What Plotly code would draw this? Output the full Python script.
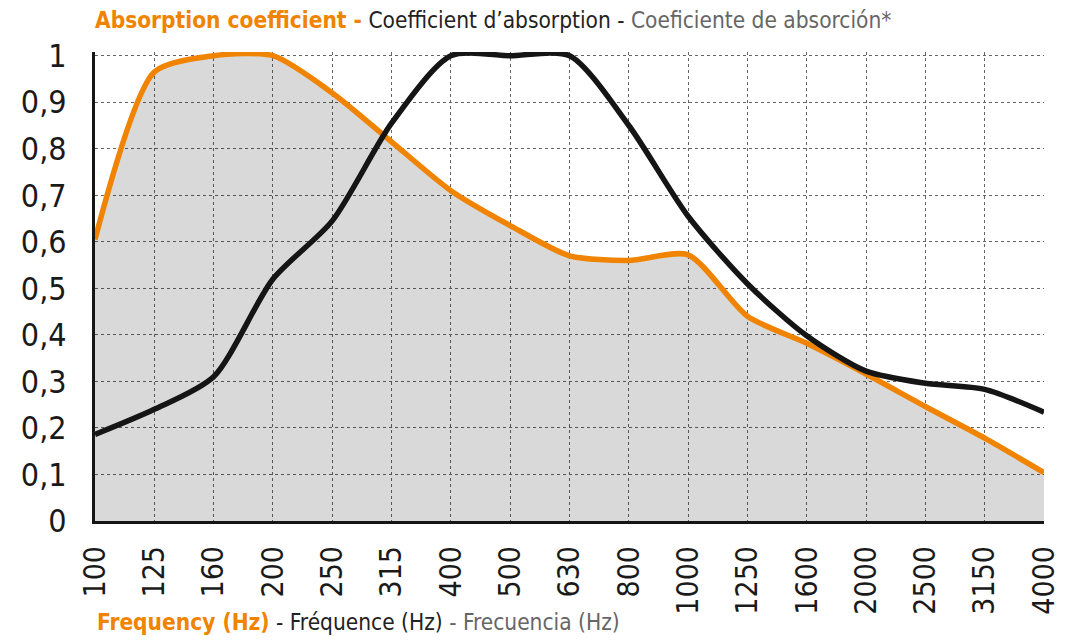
import plotly.graph_objects as go

frequencies = ["100", "125", "160", "200", "250", "315", "400", "500", "630",
               "800", "1000", "1250", "1600", "2000", "2500", "3150", "4000"]
orange_values = [0.605, 0.965, 1.0, 1.0, 0.92, 0.815, 0.71, 0.635, 0.57,
                 0.56, 0.572, 0.44, 0.382, 0.316, 0.246, 0.178, 0.104]
black_values = [0.186, 0.24, 0.31, 0.52, 0.645, 0.855, 1.0, 1.0, 1.0,
                0.85, 0.655, 0.51, 0.398, 0.322, 0.296, 0.283, 0.234]
y_ticks = [0, 0.1, 0.2, 0.3, 0.4, 0.5, 0.6, 0.7, 0.8, 0.9, 1.0]

ORANGE = "#f08300"
BLACK = "#151515"
FONT = "Liberation Sans Narrow, DejaVu Sans Condensed, Arial Narrow, sans-serif"

fig = go.Figure()
fig.add_trace(go.Scatter(
    x=frequencies, y=orange_values, mode="lines",
    line=dict(color=ORANGE, width=5.5, shape="spline", smoothing=0.7),
    fill="tozeroy", fillcolor="rgba(0,0,0,0.15)",
    hoverinfo="skip", showlegend=False,
))
fig.add_trace(go.Scatter(
    x=frequencies, y=black_values, mode="lines",
    line=dict(color=BLACK, width=5.5, shape="spline", smoothing=0.75),
    hoverinfo="skip", showlegend=False,
))

fig.update_layout(
    width=1080, height=642,
    margin=dict(l=87, r=44, t=44, b=129),
    paper_bgcolor="white", plot_bgcolor="white",
    separators=", ",
    font=dict(family=FONT, color="#1a1a1a"),
    title=dict(
        text=("<b><span style='color:%s'>Absorption coefficient -</span></b>"
              " <span style='color:#222222'>Coefficient d’absorption -</span>"
              " <span style='color:#666666'>Coeficiente de absorción*</span>") % ORANGE,
        x=0, xref="paper", xanchor="left",
        y=1 - 12 / 642, yref="container", yanchor="middle",
        font=dict(family=FONT, size=22.5),
    ),
    xaxis=dict(
        type="category", range=[0, 16],
        showgrid=True, gridcolor="#666666", griddash="dot", gridwidth=1,
        showline=True, linecolor=BLACK, linewidth=3,
        tickangle=-90, tickfont=dict(family=FONT, size=30, color="#1a1a1a"),
        ticks="", ticklen=0, zeroline=False, ticklabelstandoff=10,
    ),
    yaxis=dict(
        range=[0, 1.008], tickvals=y_ticks, tickformat=".1~f",
        showgrid=True, gridcolor="#666666", griddash="dot", gridwidth=1,
        showline=True, linecolor=BLACK, linewidth=3,
        tickfont=dict(family=FONT, size=32, color="#1a1a1a"),
        ticks="", zeroline=False, ticklabelstandoff=19,
    ),
    annotations=[dict(
        text=("<b><span style='color:%s'>Frequency (Hz)</span></b>"
              " <span style='color:#222222'>- Fréquence (Hz)</span>"
              " <span style='color:#666666'>- Frecuencia (Hz)</span>") % ORANGE,
        xref="paper", x=0, xanchor="left",
        yref="paper", y=-(614 - 513) / 469, yanchor="middle",
        showarrow=False, font=dict(family=FONT, size=22.5),
    )],
)

fig.write_html("out.html")
